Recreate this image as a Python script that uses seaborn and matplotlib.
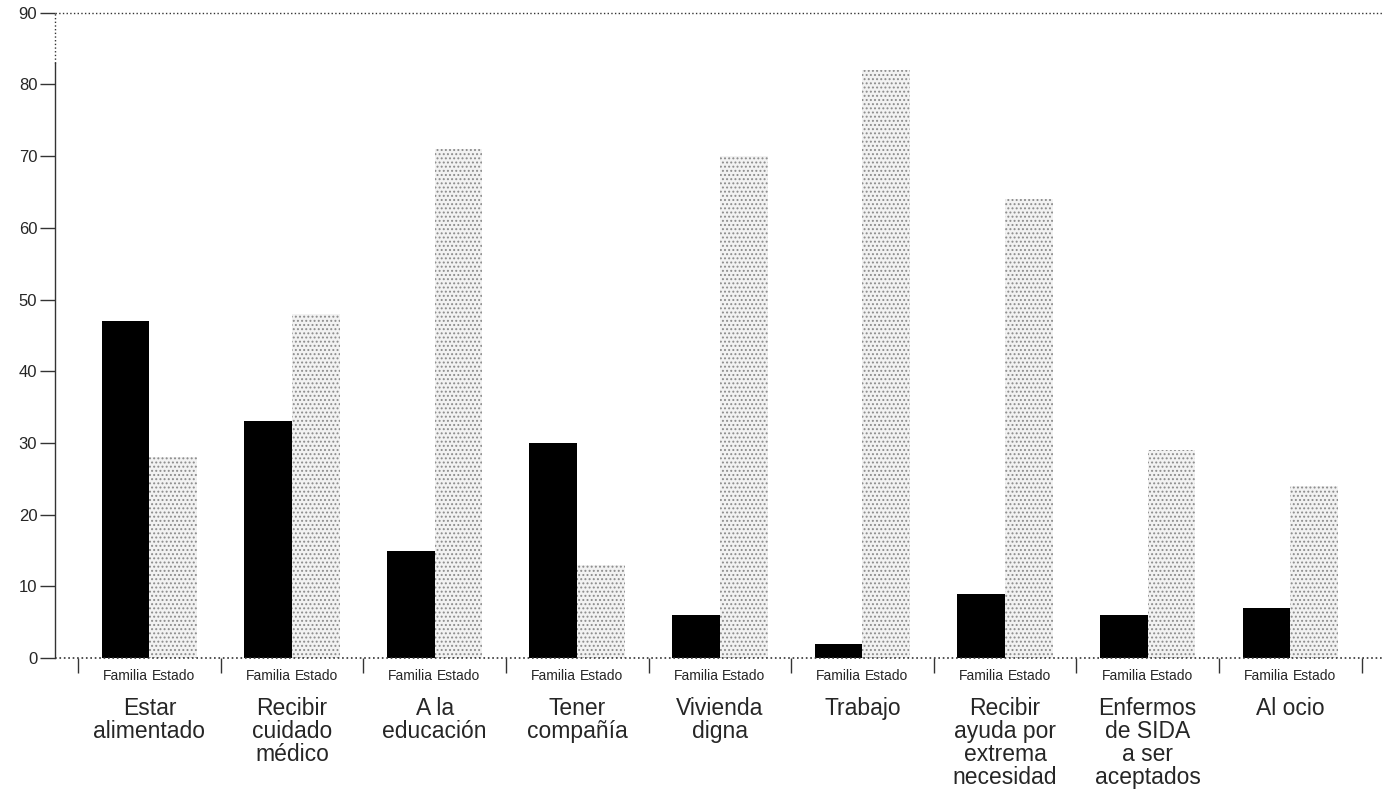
import pandas as pd
import seaborn as sns
import matplotlib.pyplot as plt
import numpy as np

# datos
categorias = ['Estar\nalimentado', 'Recibir\ncuidado\nmédico', 'A la\neducación', 'Tener\ncompañía',
              'Vivienda\ndigna', 'Trabajo', 'Recibir\nayuda por\nextrema\nnecesidad',
              'Enfermos\nde SIDA\na ser\naceptados', 'Al ocio']
familia = [47, 33, 15, 30, 6, 2, 9, 6, 7]
estado = [28, 48, 71, 13, 70, 82, 64, 29, 24]
grupos = ['Familia', 'Estado']

df = pd.DataFrame({
    'categoria': categorias * 2,
    'grupo': ['Familia'] * len(categorias) + ['Estado'] * len(categorias),
    'valor': familia + estado,
})

sns.set_style('white')
plt.rcParams['font.family'] = ['Liberation Sans', 'DejaVu Sans']
plt.rcParams['hatch.linewidth'] = 0.9

fig = plt.figure(figsize=(13.83, 7.92), dpi=100)
ax = fig.add_axes([0.04, 0.169, 0.96, 0.815])

sns.barplot(data=df, x='categoria', y='valor', hue='grupo', hue_order=grupos,
            palette={'Familia': 'black', 'Estado': 'white'}, width=0.67,
            edgecolor='none', legend=False, ax=ax)

# barras del Estado punteadas
for p in ax.containers[1]:
    p.set_facecolor('#f2f2f2')
    p.set_edgecolor('#8c8c8c')
    p.set_linewidth(0)
    p.set_hatch('....')

ax.set_ylim(0, 90)
ax.set_xlim(-0.66, 8.65)
ax.set_yticks(range(0, 91, 10))
ax.tick_params(axis='y', length=11, width=1, color='#333333', labelsize=12, pad=2, direction='out', left=True)
ax.set_xlabel('')
ax.set_ylabel('')

# etiquetas de categorias
ax.set_xticks(range(len(categorias)))
ax.set_xticklabels(categorias, fontsize=16.5, linespacing=1.0)
ax.tick_params(axis='x', which='major', length=0, pad=28)
ax.set_xticks(np.arange(-0.5, len(categorias), 1), minor=True)
ax.tick_params(axis='x', which='minor', length=11, width=1, color='#333333', direction='out', bottom=True)

for i in range(len(categorias)):
    for j, g in enumerate(grupos):
        ax.annotate(g, xy=(i - 0.167 + j * 0.335, 0), xycoords=('data', 'axes fraction'),
                    xytext=(0, -13), textcoords='offset points', ha='center', va='center',
                    fontsize=10, family=['Liberation Sans Narrow', 'Liberation Sans'])

for s in ['top', 'right', 'bottom']:
    ax.spines[s].set_visible(False)
ax.spines['left'].set_color('#333333')
ax.spines['left'].set_linewidth(1)
ax.spines['left'].set_bounds(0, 83)
ax.axhline(90, color='#333333', linestyle=':', linewidth=1, clip_on=False)
ax.axhline(0, color='#333333', linestyle=':', linewidth=1.2, clip_on=False)
ax.plot([-0.66, -0.66], [83, 90], color='#333333', linestyle=':', linewidth=1, clip_on=False)

plt.savefig('out.png', dpi=100)
